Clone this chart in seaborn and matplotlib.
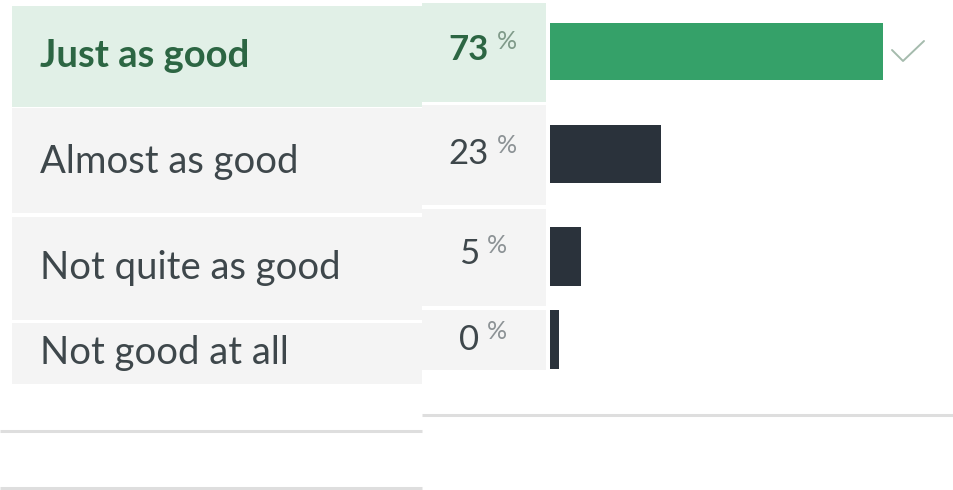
import matplotlib
matplotlib.use("Agg")
import matplotlib.pyplot as plt
from matplotlib.patches import Rectangle
import seaborn as sns

# poll answers and result shares (%)
answers = ["Just as good", "Almost as good", "Not quite as good", "Not good at all"]
shares = [73, 23, 5, 0]
chosen = "Just as good"

W, H = 954, 490
GREEN, DARK = "#35a169", "#2a323b"
GREEN_BG, GRAY_BG = "#e1f0e7", "#f4f4f4"
GREEN_TXT, GRAY_TXT, PCT_TXT = "#2c6643", "#3e474b", "#8c9295"
LINE = "#dedede"

# pixel layout of the screenshot rows (top, bottom)
left_rows = [(6, 107), (108, 213), (217, 320), (323, 384)]
mid_rows = [(3, 102), (105, 205), (209, 306), (310, 370)]
bar_rows = [(23, 80), (125, 183), (227, 286), (310, 369)]
label_base = [67, 173, 279, 364]
num_mid = [50, 154, 254, 340]

BAR_X0 = 550
PX_PER_PCT = 4.44
STUB = 2.0  # minimum stub drawn left of zero

sns.set_theme(style="white")
plt.rcParams["font.family"] = ["Lato", "DejaVu Sans"]

fig = plt.figure(figsize=(W / 100, H / 100), dpi=100)
bg = fig.add_axes([0, 0, 1, 1])
bg.set_xlim(0, W); bg.set_ylim(H, 0); bg.axis("off")

for i, ans in enumerate(answers):
    sel = ans == chosen
    t, b = left_rows[i]
    bg.add_patch(Rectangle((12, t), 422 - 12, b - t, color=GREEN_BG if sel else GRAY_BG, lw=0))
    t, b = mid_rows[i]
    bg.add_patch(Rectangle((422, t), 546 - 422, b - t, color=GREEN_BG if sel else GRAY_BG, lw=0))
    bg.text(40, label_base[i], ans, fontsize=27.5, va="baseline",
            color=GREEN_TXT if sel else GRAY_TXT, fontweight="bold" if sel else "normal")
    num = bg.text(469, num_mid[i], f"{shares[i]}", fontsize=25, ha="center", va="center",
                  color=GREEN_TXT if sel else GRAY_TXT, fontweight="bold" if sel else "normal")
    bg.annotate("%", xy=(1, 1), xycoords=num, xytext=(8, 4), textcoords="offset pixels",
                ha="left", va="top", fontsize=18, color="#7f9a89" if sel else PCT_TXT)

# grey rules under the panels
bg.plot([422, W], [415, 415], color=LINE, lw=2.2, solid_capstyle="butt")
bg.plot([0, 422], [431, 431], color=LINE, lw=2.2, solid_capstyle="butt")
bg.plot([0, 422], [488, 488], color=LINE, lw=2.2, solid_capstyle="butt")

xmax = -STUB + (W - BAR_X0) / PX_PER_PCT
for i, ans in enumerate(answers):
    t, b = bar_rows[i]
    bax = fig.add_axes([BAR_X0 / W, 1 - b / H, (W - BAR_X0) / W, (b - t) / H])
    sel = ans == chosen
    sns.barplot(x=[shares[i]], y=[ans], orient="h", color=GREEN if sel else DARK,
                width=1, saturation=1, ax=bax)
    for p in bax.patches:
        p.set_x(-STUB)
        p.set_width(p.get_width() + STUB)
        p.set_linewidth(0)
    bax.set_xlim(-STUB, xmax)
    bax.set_ylim(0.5, -0.5)
    bax.axis("off")
    if sel:
        # tick icon just after the chosen bar's end
        ex = BAR_X0 + (shares[i] + STUB) * PX_PER_PCT
        cy = (t + b) / 2
        bg.plot([ex + 9, ex + 20, ex + 41], [cy - 1.5, cy + 9.5, cy - 10.5],
                color="#a5bbad", lw=1.4, solid_capstyle="round")

fig.savefig("out.png", dpi=100)
